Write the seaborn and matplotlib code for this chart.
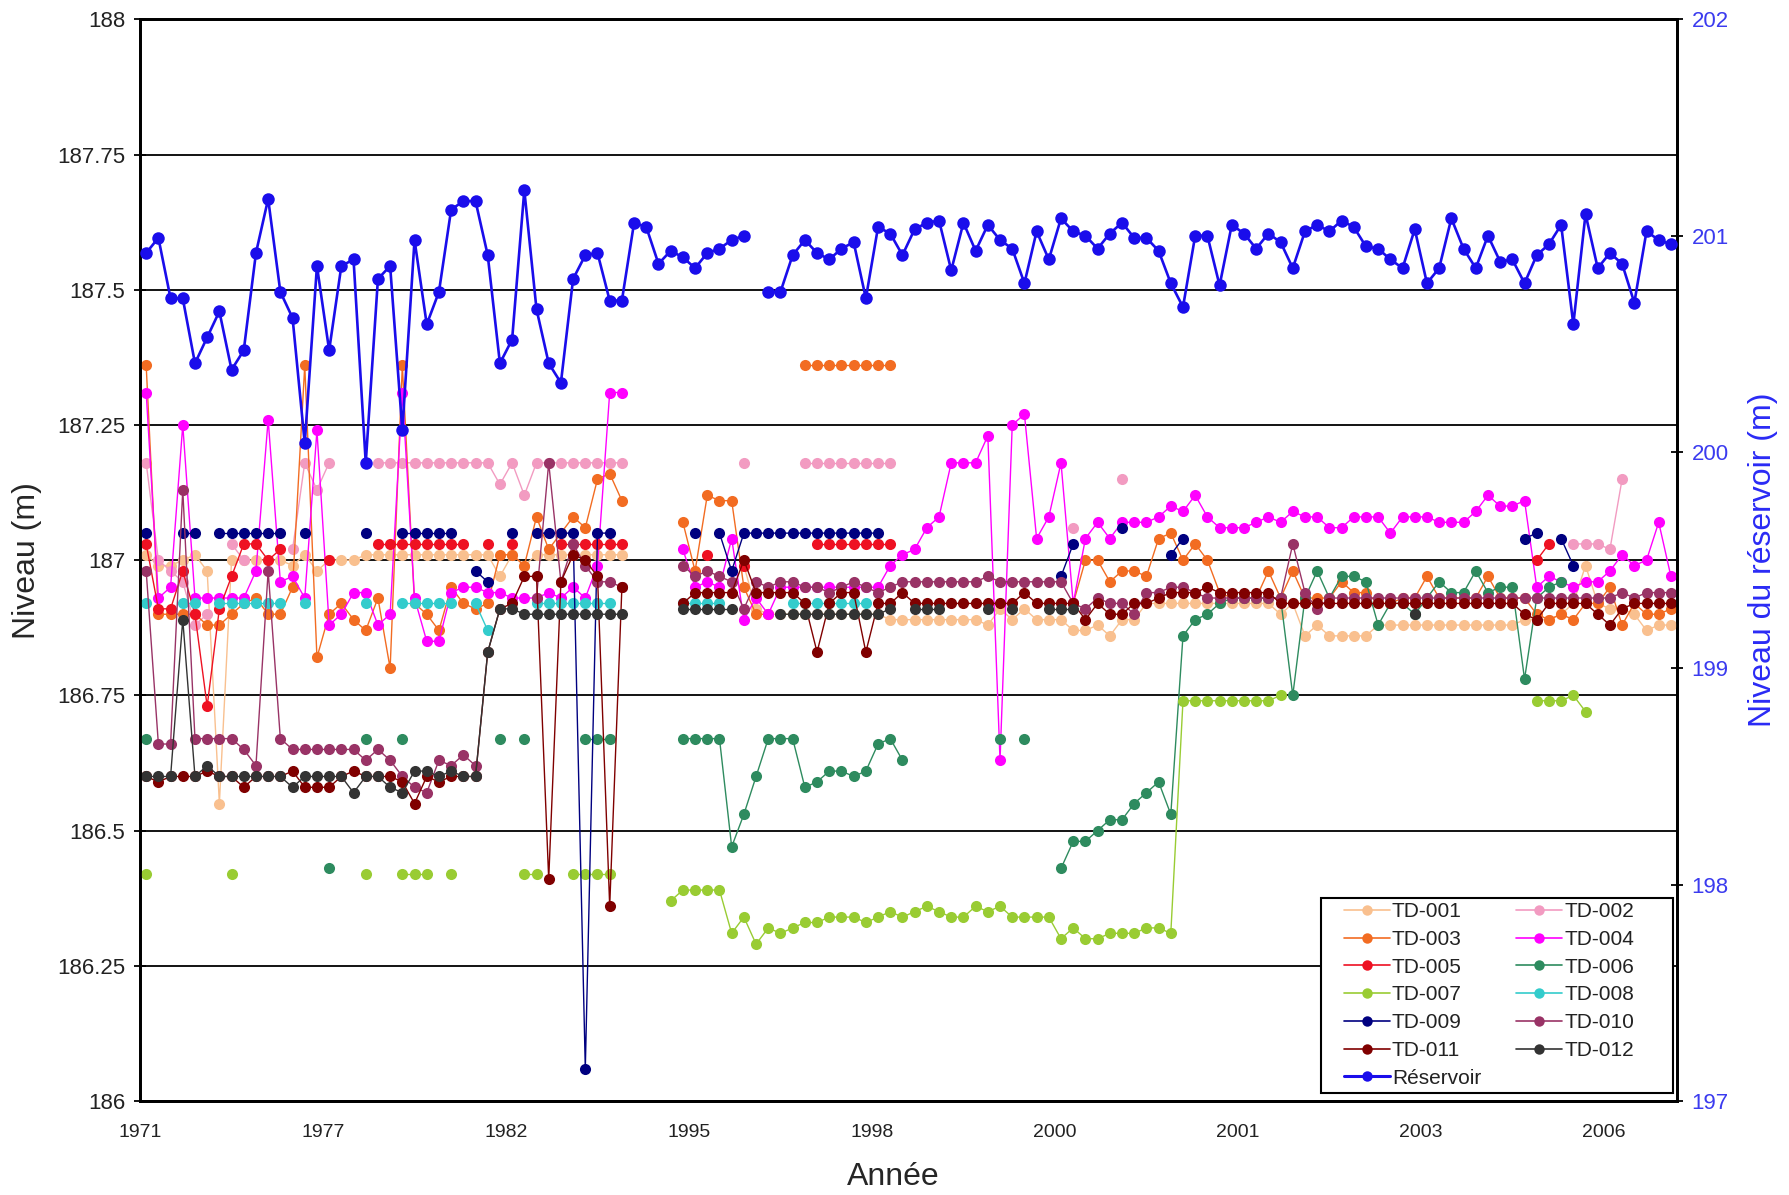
import numpy as np
import pandas as pd
import matplotlib
matplotlib.use('Agg')
import matplotlib.pyplot as plt
from matplotlib.lines import Line2D
from matplotlib.patches import Rectangle
import seaborn as sns

nan = np.nan

# ---------------------------------------------------------------------------
# Données : 126 relevés, étiquettes toutes les 15
# ---------------------------------------------------------------------------
year_labels = ['1971', '1977', '1982', '1995', '1998', '2000', '2001', '2003', '2006']
left_ticks = [186, 186.25, 186.5, 186.75, 187, 187.25, 187.5, 187.75, 188]
left_tick_labels = ['186', '186.25', '186.5', '186.75', '187', '187.25', '187.5', '187.75', '188']
right_ticks = [197, 198, 199, 200, 201, 202]

reservoir = [
    200.92, 200.99, 200.71, 200.71, 200.41, 200.53, 200.65, 200.38, 200.47, 200.92,
    201.17, 200.74, 200.62, 200.04, 200.86, 200.47, 200.86, 200.89, 199.95, 200.80,
    200.86, 200.10, 200.98, 200.59, 200.74, 201.12, 201.16, 201.16, 200.91, 200.41,
    200.52, 201.21, 200.66, 200.41, 200.32, 200.80, 200.91, 200.92, 200.70, 200.70,
    201.06, 201.04, 200.87, 200.93, 200.90, 200.85, 200.92, 200.94, 200.98, 201.00,
    nan, 200.74, 200.74, 200.91, 200.98, 200.92, 200.89, 200.94, 200.97, 200.71,
    201.04, 201.01, 200.91, 201.03, 201.06, 201.07, 200.84, 201.06, 200.93, 201.05,
    200.98, 200.94, 200.78, 201.02, 200.89, 201.08, 201.02, 201.00, 200.94, 201.01,
    201.06, 200.99, 200.99, 200.93, 200.78, 200.67, 201.00, 201.00, 200.77, 201.05,
    201.01, 200.94, 201.01, 200.97, 200.85, 201.02, 201.05, 201.02, 201.07, 201.04,
    200.95, 200.94, 200.89, 200.85, 201.03, 200.78, 200.85, 201.08, 200.94, 200.85,
    201.00, 200.88, 200.89, 200.78, 200.91, 200.96, 201.05, 200.59, 201.10, 200.85,
    200.92, 200.87, 200.69, 201.02, 200.98, 200.96,
]

td001 = [
    187.01, 186.99, 186.99, 187.00, 187.01, 186.98, 186.55, 187.00, 187.00, 187.00,
    187.00, 187.00, 186.99, 187.01, 186.98, 187.00, 187.00, 187.00, 187.01, 187.01,
    187.01, 187.01, 187.01, 187.01, 187.01, 187.01, 187.01, 187.01, 187.01, 186.97,
    187.01, 186.99, 187.01, 187.01, 187.01, 187.01, 187.01, 187.01, 187.01, 187.01,
    nan, nan, nan, nan, nan, nan, nan, nan, nan, 186.99,
    186.91, 186.90, 186.90, 186.90, 186.90, 186.90, 186.90, 186.90, 186.90, 186.90,
    186.90, 186.89, 186.89, 186.89, 186.89, 186.89, 186.89, 186.89, 186.89, 186.88,
    186.91, 186.89, 186.91, 186.89, 186.89, 186.89, 186.87, 186.87, 186.88, 186.86,
    186.89, 186.89, 186.92, 186.92, 186.92, 186.92, 186.92, 186.92, 186.92, 186.92,
    186.92, 186.92, 186.92, 186.90, 186.92, 186.86, 186.88, 186.86, 186.86, 186.86,
    186.86, 186.88, 186.88, 186.88, 186.88, 186.88, 186.88, 186.88, 186.88, 186.88,
    186.88, 186.88, 186.88, 186.89, 186.89, 186.89, 186.90, 186.92, 186.99, 186.92,
    186.91, 186.91, 186.90, 186.87, 186.88, 186.88,
]

td002 = [
    187.18, 187.00, 186.98, 186.96, 186.88, 186.90, nan, 187.03, 187.00, nan,
    nan, nan, 187.02, 187.18, 187.13, 187.18, nan, nan, nan, 187.18,
    187.18, 187.18, 187.18, 187.18, 187.18, 187.18, 187.18, 187.18, 187.18, 187.14,
    187.18, 187.12, 187.18, 187.18, 187.18, 187.18, 187.18, 187.18, 187.18, 187.18,
    nan, nan, nan, nan, nan, nan, nan, nan, nan, 187.18,
    nan, nan, nan, nan, 187.18, 187.18, 187.18, 187.18, 187.18, 187.18,
    187.18, 187.18, nan, nan, nan, nan, nan, nan, nan, nan,
    nan, nan, nan, nan, nan, nan, 187.06, nan, nan, nan,
    187.15, nan, nan, nan, nan, nan, nan, nan, nan, nan,
    nan, nan, nan, nan, nan, nan, nan, nan, nan, nan,
    nan, nan, nan, nan, nan, nan, nan, nan, nan, nan,
    nan, nan, nan, nan, nan, nan, nan, 187.03, 187.03, 187.03,
    187.02, 187.15, nan, nan, nan, nan,
]

td003 = [
    187.36, 186.90, 186.90, 186.90, 186.90, 186.88, 186.88, 186.90, 186.92, 186.93,
    186.90, 186.90, 186.95, 187.36, 186.82, 186.90, 186.92, 186.89, 186.87, 186.93,
    186.80, 187.36, 186.92, 186.90, 186.87, 186.95, 186.92, 186.91, 186.92, 187.01,
    187.01, 186.99, 187.08, 187.02, 187.05, 187.08, 187.06, 187.15, 187.16, 187.11,
    nan, nan, nan, nan, 187.07, 186.98, 187.12, 187.11, 187.11, 186.95,
    186.90, 186.90, nan, nan, 187.36, 187.36, 187.36, 187.36, 187.36, 187.36,
    187.36, 187.36, nan, nan, nan, nan, nan, nan, nan, nan,
    nan, nan, nan, nan, nan, nan, 186.92, 187.00, 187.00, 186.96,
    186.98, 186.98, 186.97, 187.04, 187.05, 187.00, 187.03, 187.00, 186.94, 186.93,
    186.93, 186.93, 186.98, 186.93, 186.98, 186.93, 186.93, 186.93, 186.96, 186.94,
    186.94, 186.92, 186.92, 186.93, 186.93, 186.97, 186.93, 186.93, 186.93, 186.93,
    186.97, 186.93, 186.93, 186.93, 186.90, 186.89, 186.90, 186.89, 186.92, 186.92,
    186.95, 186.88, 186.92, 186.90, 186.90, 186.91,
]

td004 = [
    187.31, 186.93, 186.95, 187.25, 186.93, 186.93, 186.93, 186.93, 186.93, 186.98,
    187.26, 186.96, 186.97, 186.93, 187.24, 186.88, 186.90, 186.94, 186.94, 186.88,
    186.90, 187.31, 186.93, 186.85, 186.85, 186.94, 186.95, 186.95, 186.94, 186.94,
    186.93, 186.93, 186.93, 186.94, 186.93, 186.95, 186.93, 186.99, 187.31, 187.31,
    nan, nan, nan, nan, 187.02, 186.95, 186.96, 186.95, 187.04, 186.89,
    186.93, 186.90, 186.95, 186.95, 186.95, 186.95, 186.95, 186.95, 186.95, 186.95,
    186.95, 186.99, 187.01, 187.02, 187.06, 187.08, 187.18, 187.18, 187.18, 187.23,
    186.63, 187.25, 187.27, 187.04, 187.08, 187.18, 186.92, 187.04, 187.07, 187.04,
    187.07, 187.07, 187.07, 187.08, 187.10, 187.09, 187.12, 187.08, 187.06, 187.06,
    187.06, 187.07, 187.08, 187.07, 187.09, 187.08, 187.08, 187.06, 187.06, 187.08,
    187.08, 187.08, 187.05, 187.08, 187.08, 187.08, 187.07, 187.07, 187.07, 187.09,
    187.12, 187.10, 187.10, 187.11, 186.95, 186.97, 186.96, 186.95, 186.96, 186.96,
    186.98, 187.01, 186.99, 187.00, 187.07, 186.97,
]

td005 = [
    187.03, 186.91, 186.91, 186.98, 186.90, 186.73, 186.91, 186.97, 187.03, 187.03,
    187.00, 187.02, nan, nan, nan, 187.00, nan, nan, nan, 187.03,
    187.03, 187.03, 187.03, 187.03, 187.03, 187.03, 187.03, nan, 187.03, nan,
    187.03, nan, nan, nan, 187.03, 187.03, 187.03, 187.03, 187.03, 187.03,
    nan, nan, nan, nan, nan, nan, 187.01, nan, nan, 186.99,
    nan, nan, nan, nan, nan, 187.03, 187.03, 187.03, 187.03, 187.03,
    187.03, 187.03, nan, nan, nan, nan, nan, nan, nan, nan,
    nan, nan, nan, nan, nan, nan, nan, nan, nan, nan,
    nan, nan, nan, nan, nan, nan, nan, nan, nan, nan,
    nan, nan, nan, nan, nan, nan, nan, nan, nan, nan,
    nan, nan, nan, nan, nan, nan, nan, nan, nan, nan,
    nan, nan, nan, nan, 187.00, 187.03, nan, nan, nan, nan,
    nan, nan, nan, nan, nan, nan,
]

td006 = [
    186.67, nan, nan, nan, nan, nan, nan, nan, nan, nan,
    nan, nan, nan, nan, nan, 186.43, nan, nan, 186.67, nan,
    nan, 186.67, nan, nan, nan, nan, nan, nan, nan, 186.67,
    nan, 186.67, nan, nan, nan, nan, 186.67, 186.67, 186.67, nan,
    nan, nan, nan, nan, 186.67, 186.67, 186.67, 186.67, 186.47, 186.53,
    186.60, 186.67, 186.67, 186.67, 186.58, 186.59, 186.61, 186.61, 186.60, 186.61,
    186.66, 186.67, 186.63, nan, nan, nan, nan, nan, nan, nan,
    186.67, nan, 186.67, nan, nan, 186.43, 186.48, 186.48, 186.50, 186.52,
    186.52, 186.55, 186.57, 186.59, 186.53, 186.86, 186.89, 186.90, 186.92, 186.93,
    186.93, 186.93, 186.93, 186.93, 186.75, 186.93, 186.98, 186.93, 186.97, 186.97,
    186.96, 186.88, 186.92, 186.92, 186.90, 186.93, 186.96, 186.94, 186.94, 186.98,
    186.94, 186.95, 186.95, 186.78, 186.93, 186.95, 186.96, nan, nan, nan,
    nan, nan, nan, nan, nan, nan,
]

td007 = [
    186.42, nan, nan, nan, nan, nan, nan, 186.42, nan, nan,
    nan, nan, nan, nan, nan, nan, nan, nan, 186.42, nan,
    nan, 186.42, 186.42, 186.42, nan, 186.42, nan, nan, nan, nan,
    nan, 186.42, 186.42, nan, nan, 186.42, 186.42, 186.42, 186.42, nan,
    nan, nan, nan, 186.37, 186.39, 186.39, 186.39, 186.39, 186.31, 186.34,
    186.29, 186.32, 186.31, 186.32, 186.33, 186.33, 186.34, 186.34, 186.34, 186.33,
    186.34, 186.35, 186.34, 186.35, 186.36, 186.35, 186.34, 186.34, 186.36, 186.35,
    186.36, 186.34, 186.34, 186.34, 186.34, 186.30, 186.32, 186.30, 186.30, 186.31,
    186.31, 186.31, 186.32, 186.32, 186.31, 186.74, 186.74, 186.74, 186.74, 186.74,
    186.74, 186.74, 186.74, 186.75, nan, nan, nan, nan, nan, nan,
    nan, nan, nan, nan, nan, nan, nan, nan, nan, nan,
    nan, nan, nan, nan, 186.74, 186.74, 186.74, 186.75, 186.72, nan,
    nan, nan, nan, nan, nan, nan,
]

td008 = [
    186.92, nan, nan, 186.92, 186.92, nan, 186.92, 186.92, 186.92, 186.92,
    186.92, 186.92, nan, 186.92, nan, nan, nan, nan, 186.92, nan,
    nan, 186.92, 186.92, 186.92, 186.92, 186.92, nan, 186.92, 186.87, nan,
    nan, nan, 186.92, 186.92, 186.92, 186.92, 186.92, 186.92, 186.92, nan,
    nan, nan, nan, nan, 186.92, 186.92, 186.92, 186.92, nan, nan,
    nan, nan, nan, 186.92, 186.92, 186.92, 186.92, 186.92, 186.92, 186.92,
    nan, nan, nan, nan, nan, nan, nan, nan, nan, nan,
    nan, nan, nan, nan, nan, nan, nan, nan, nan, nan,
    nan, nan, nan, nan, nan, nan, nan, nan, nan, nan,
    nan, nan, nan, nan, nan, nan, nan, nan, nan, nan,
    nan, nan, nan, nan, nan, nan, nan, nan, nan, nan,
    nan, nan, nan, nan, nan, nan, nan, nan, nan, nan,
    nan, nan, nan, nan, nan, nan,
]

td009 = [
    187.05, nan, nan, 187.05, 187.05, nan, 187.05, 187.05, 187.05, 187.05,
    187.05, 187.05, nan, 187.05, nan, nan, nan, nan, 187.05, nan,
    nan, 187.05, 187.05, 187.05, 187.05, 187.05, nan, 186.98, 186.96, nan,
    187.05, nan, 187.05, 187.05, 187.05, 187.05, 186.06, 187.05, 187.05, nan,
    nan, nan, nan, nan, nan, 187.05, nan, 187.05, 186.98, 187.05,
    187.05, 187.05, 187.05, 187.05, 187.05, 187.05, 187.05, 187.05, 187.05, 187.05,
    187.05, nan, nan, nan, nan, nan, nan, nan, nan, nan,
    nan, nan, nan, nan, nan, 186.97, 187.03, nan, nan, nan,
    187.06, nan, nan, nan, 187.01, 187.04, nan, nan, nan, nan,
    nan, nan, nan, nan, nan, nan, nan, nan, nan, nan,
    nan, nan, nan, nan, nan, nan, nan, nan, nan, nan,
    nan, nan, nan, 187.04, 187.05, nan, 187.04, 186.99, nan, nan,
    nan, nan, nan, nan, nan, nan,
]

td010 = [
    186.98, 186.66, 186.66, 187.13, 186.67, 186.67, 186.67, 186.67, 186.65, 186.62,
    186.98, 186.67, 186.65, 186.65, 186.65, 186.65, 186.65, 186.65, 186.63, 186.65,
    186.63, 186.60, 186.58, 186.57, 186.63, 186.62, 186.64, 186.62, nan, nan,
    nan, nan, 186.93, 187.18, 186.96, 187.03, 186.99, 186.96, 186.96, 186.95,
    nan, nan, nan, nan, 186.99, 186.97, 186.98, 186.97, 186.96, 186.91,
    186.96, 186.95, 186.96, 186.96, 186.95, 186.95, 186.94, 186.95, 186.96, 186.95,
    186.94, 186.95, 186.96, 186.96, 186.96, 186.96, 186.96, 186.96, 186.96, 186.97,
    186.96, 186.96, 186.96, 186.96, 186.96, 186.96, 186.92, 186.91, 186.93, 186.92,
    186.92, 186.90, 186.94, 186.94, 186.95, 186.95, 186.94, 186.93, 186.93, 186.93,
    186.93, 186.93, 186.93, 186.93, 187.03, 186.94, 186.91, 186.93, 186.93, 186.93,
    186.93, 186.93, 186.93, 186.93, 186.93, 186.93, 186.93, 186.93, 186.93, 186.93,
    186.93, 186.93, 186.93, 186.93, 186.93, 186.93, 186.93, 186.93, 186.93, 186.93,
    186.93, 186.94, 186.93, 186.94, 186.94, 186.94,
]

td011 = [
    186.60, 186.59, 186.60, 186.60, 186.60, 186.61, 186.60, 186.60, 186.58, 186.60,
    186.60, 186.60, 186.61, 186.58, 186.58, 186.58, 186.60, 186.61, 186.60, 186.60,
    186.60, 186.59, 186.55, 186.60, 186.59, 186.60, 186.60, 186.60, 186.83, 186.91,
    186.92, 186.97, 186.97, 186.41, 186.96, 187.01, 187.00, 186.97, 186.36, 186.95,
    nan, nan, nan, nan, 186.92, 186.94, 186.94, 186.94, 186.94, 187.00,
    186.94, 186.94, 186.94, 186.94, 186.92, 186.83, 186.92, 186.94, 186.94, 186.83,
    186.92, 186.92, 186.94, 186.92, 186.92, 186.92, 186.92, 186.92, 186.92, 186.92,
    186.92, 186.92, 186.94, 186.92, 186.92, 186.92, 186.92, 186.89, 186.92, 186.90,
    186.90, 186.92, 186.92, 186.93, 186.94, 186.94, 186.94, 186.95, 186.94, 186.94,
    186.94, 186.94, 186.94, 186.92, 186.92, 186.92, 186.92, 186.92, 186.92, 186.92,
    186.92, 186.92, 186.92, 186.92, 186.92, 186.92, 186.92, 186.92, 186.92, 186.92,
    186.92, 186.92, 186.92, 186.90, 186.89, 186.92, 186.92, 186.92, 186.92, 186.90,
    186.88, 186.91, 186.92, 186.92, 186.92, 186.92,
]

td012 = [
    186.60, 186.60, 186.60, 186.89, 186.60, 186.62, 186.60, 186.60, 186.60, 186.60,
    186.60, 186.60, 186.58, 186.60, 186.60, 186.60, 186.60, 186.57, 186.60, 186.60,
    186.58, 186.57, 186.61, 186.61, 186.60, 186.61, 186.60, 186.60, 186.83, 186.91,
    186.91, 186.90, 186.90, 186.90, 186.90, 186.90, 186.90, 186.90, 186.90, 186.90,
    nan, nan, nan, nan, 186.91, 186.91, 186.91, 186.91, 186.91, nan,
    nan, nan, 186.90, 186.90, 186.90, 186.90, 186.90, 186.90, 186.90, 186.90,
    186.90, 186.91, nan, 186.91, 186.91, 186.91, nan, nan, nan, 186.91,
    nan, 186.91, nan, nan, 186.91, 186.91, 186.91, nan, nan, nan,
    nan, nan, nan, nan, nan, nan, nan, nan, nan, nan,
    nan, nan, nan, nan, nan, nan, nan, nan, nan, nan,
    nan, nan, nan, nan, 186.90, nan, nan, nan, nan, nan,
    nan, nan, nan, nan, nan, nan, nan, nan, nan, nan,
    nan, nan, nan, nan, nan, nan,
]

series_names = ['TD-001', 'TD-002', 'TD-003', 'TD-004', 'TD-005', 'TD-006',
                'TD-007', 'TD-008', 'TD-009', 'TD-010', 'TD-011', 'TD-012']
series_values = [td001, td002, td003, td004, td005, td006,
                 td007, td008, td009, td010, td011, td012]
series_colors = ['#F9C08F', '#F29BC1', '#F26C22', '#FF00FF', '#EE1122', '#2E8B5F',
                 '#99CC33', '#33CCCC', '#000080', '#993366', '#800000', '#333333']
res_color = '#1A0DEB'

# ---------------------------------------------------------------------------
# Style
# ---------------------------------------------------------------------------
sns.set_style('white')
plt.rcParams['font.family'] = ['Liberation Sans', 'DejaVu Sans']

n_points = len(reservoir)
x_pos = np.arange(n_points) + 0.5


def draw_series(axis, values, color, lw, ms, z):
    y = np.array(values, dtype=float)
    seg = np.cumsum(np.isnan(y))
    df = pd.DataFrame({'x': x_pos, 'y': y, 'seg': seg}).dropna()
    sns.lineplot(data=df, x='x', y='y', units='seg', estimator=None, sort=False,
                 color=color, linewidth=lw, marker='o', markersize=ms,
                 markeredgecolor=color, markeredgewidth=0, ax=axis, zorder=z,
                 legend=False)


fig = plt.figure(figsize=(17.89, 11.95), dpi=100)
ax = fig.add_axes([0.0783, 0.0787, 0.8591, 0.9051])

for k, (vals, col) in enumerate(zip(series_values, series_colors)):
    draw_series(ax, vals, col, 1.0, 8.0, 3 + k)

ax.set_xlim(0, n_points)
ax.set_ylim(186, 188)
ax.set_xticks(np.arange(0, n_points, 15))
ax.set_xticklabels(year_labels)
ax.set_yticks(left_ticks)
ax.set_yticklabels(left_tick_labels)
ax.yaxis.grid(True, color='black', linewidth=1.3)
ax.xaxis.grid(False)
ax.set_axisbelow(True)
ax.tick_params(axis='both', direction='inout', length=9, width=1.3, colors='black',
               labelcolor='#222222', pad=6)
ax.tick_params(axis='y', labelsize=16)
ax.tick_params(axis='x', labelsize=14, pad=12)
for sp in ax.spines.values():
    sp.set_color('black')
    sp.set_linewidth(2.0)

ax.set_xlabel('Année', fontsize=23)
ax.set_ylabel('Niveau (m)', fontsize=23)
ax.xaxis.set_label_coords(0.49, -0.056)
ax.yaxis.set_label_coords(-0.064, 0.5)

ax2 = ax.twinx()
draw_series(ax2, reservoir, res_color, 1.9, 9.0, 5)
ax2.set_ylim(197, 202)
ax2.set_yticks(right_ticks)
ax2.set_yticklabels([str(t) for t in right_ticks])
ax2.tick_params(axis='y', direction='inout', length=9, width=1.3, colors='black',
                labelcolor='#3B3BEF', labelsize=16, pad=6)
ax2.set_ylabel('Niveau du réservoir (m)', fontsize=23, color='#2A2AF5')
ax2.yaxis.set_label_coords(1.046, 0.5)
ax2.set_xlim(0, n_points)
for sp in ax2.spines.values():
    sp.set_color('black')
    sp.set_linewidth(2.0)

# Légende : cadre dessiné à part, deux colonnes lues ligne par ligne
frame = Rectangle((0.7684, 0.0074), 0.229, 0.1802, transform=ax2.transAxes,
                  facecolor='white', edgecolor='black', linewidth=1.5,
                  zorder=19, clip_on=False)
ax2.add_patch(frame)

handles = {}
for name, col in zip(series_names, series_colors):
    handles[name] = Line2D([0], [0], color=col, lw=1.2, marker='o', markersize=7.5,
                           markeredgecolor=col, markeredgewidth=0)
handles['Réservoir'] = Line2D([0], [0], color=res_color, lw=2.2, marker='o',
                              markersize=7.5, markeredgecolor=res_color, markeredgewidth=0)
order = ['TD-001', 'TD-003', 'TD-005', 'TD-007', 'TD-009', 'TD-011', 'Réservoir',
         'TD-002', 'TD-004', 'TD-006', 'TD-008', 'TD-010', 'TD-012']
leg = ax2.legend([handles[o] for o in order], order, ncol=2, loc='upper left',
                 bbox_to_anchor=(0.7833, 0.1839), borderaxespad=0, borderpad=0,
                 fontsize=15, frameon=False,
                 handlelength=2.2, handletextpad=0.1, columnspacing=1.68,
                 labelspacing=0.42)
leg.set_zorder(20)
for t in leg.get_texts():
    t.set_color('#222222')

fig.savefig('out.png', dpi=100)
